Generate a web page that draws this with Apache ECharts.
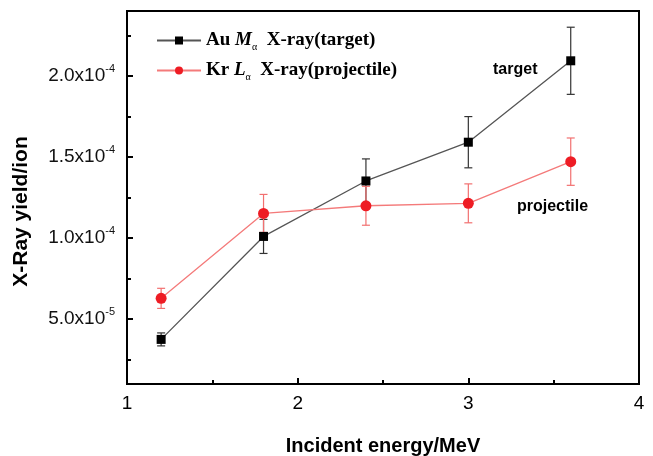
<!DOCTYPE html>
<html>
<head>
<meta charset="utf-8">
<script src="https://cdn.jsdelivr.net/npm/echarts@6/dist/echarts.min.js"></script>
<style>html,body{margin:0;padding:0;background:#fff;}#c{width:653px;height:456px;}</style>
</head>
<body>
<div id="c"></div>
<script>
var energies = [1.2, 1.8, 2.4, 3.0, 3.6];
var targetYield = [3.75e-5, 1.01e-4, 1.352e-4, 1.591e-4, 2.093e-4];
var targetErr = [0.4e-5, 1.05e-5, 1.36e-5, 1.58e-5, 2.07e-5];
var projYield = [6.28e-5, 1.152e-4, 1.199e-4, 1.214e-4, 1.471e-4];
var projErr = [0.62e-5, 1.17e-5, 1.2e-5, 1.2e-5, 1.46e-5];
var yMajorTicks = [5e-5, 1e-4, 1.5e-4, 2e-4];
var yMinorTicks = [2.5e-5, 7.5e-5, 1.25e-4, 1.75e-4, 2.25e-4];
var yTickLabels = [['5.0x10', '-5'], ['1.0x10', '-4'], ['1.5x10', '-4'], ['2.0x10', '-4']];
var targetName = 'Au Mα X-ray(target)';
var projName = 'Kr Lα X-ray(projectile)';

function pairs(xs, ys) { return xs.map(function (x, i) { return [x, ys[i]]; }); }
function errData(xs, ys, es) { return xs.map(function (x, i) { return [x, ys[i] - es[i], ys[i] + es[i]]; }); }
function errRender(color) {
  return function (params, api) {
    var lo = api.coord([api.value(0), api.value(1)]);
    var hi = api.coord([api.value(0), api.value(2)]);
    var w = 4;
    var st = { stroke: color, lineWidth: 1.2 };
    return { type: 'group', children: [
      { type: 'line', shape: { x1: lo[0], y1: lo[1], x2: hi[0], y2: hi[1] }, style: st },
      { type: 'line', shape: { x1: lo[0] - w, y1: lo[1], x2: lo[0] + w, y2: lo[1] }, style: st },
      { type: 'line', shape: { x1: hi[0] - w, y1: hi[1], x2: hi[0] + w, y2: hi[1] }, style: st }
    ]};
  };
}

var chart = echarts.init(document.getElementById('c'));
var labelFont = '"Liberation Sans", Arial, sans-serif';
var serifFont = '"Liberation Serif", "Times New Roman", serif';
chart.setOption({
  animation: false,
  backgroundColor: '#fff',
  grid: { left: 127, right: 14, top: 11, bottom: 72, outerBoundsMode: 'none', containLabel: false, show: true, borderColor: '#000', borderWidth: 2, backgroundColor: 'transparent' },
  legend: {
    orient: 'vertical', left: 151, top: 26, itemGap: 9, itemWidth: 44, itemHeight: 10,
    data: [targetName, projName],
    formatter: function (name) {
      if (name === targetName) return '{n|Au }{i|M}{s|α}{n|  X-ray(target)}';
      return '{n|Kr }{i|L}{s|α}{n|  X-ray(projectile)}';
    },
    textStyle: {
      rich: {
        n: { fontFamily: serifFont, fontWeight: 'bold', fontSize: 19, color: '#000' },
        i: { fontFamily: serifFont, fontWeight: 'bold', fontStyle: 'italic', fontSize: 19, color: '#000' },
        s: { fontFamily: serifFont, fontSize: 10, color: '#000', padding: [13, 0, 0, 0] }
      }
    }
  },
  xAxis: {
    type: 'value', min: 1, max: 4, interval: 1,
    name: 'Incident energy/MeV', nameLocation: 'middle', nameGap: 52,
    nameTextStyle: { fontFamily: labelFont, fontWeight: 'bold', fontSize: 20, color: '#000' },
    axisLine: { lineStyle: { color: '#000', width: 2 } },
    axisTick: { inside: true, length: 6, lineStyle: { color: '#000', width: 2 } },
    minorTick: { show: true, splitNumber: 2, length: 4, lineStyle: { color: '#000', width: 2 } },
    splitLine: { show: false },
    axisLabel: { fontFamily: labelFont, fontSize: 19, color: '#000', margin: 10 }
  },
  yAxis: [{
    type: 'value', min: 1e-5, max: 2.4e-4,
    name: 'X-Ray yield/ion', nameLocation: 'middle', nameGap: 95, nameRotate: 90,
    nameTextStyle: { fontFamily: labelFont, fontWeight: 'bold', fontSize: 21, color: '#000', padding: [0, 28, 0, 0] },
    axisLine: { show: true, lineStyle: { color: '#000', width: 2 } },
    axisTick: { inside: true, length: 6, customValues: yMajorTicks, lineStyle: { color: '#000', width: 2 } },
    splitLine: { show: false },
    axisLabel: {
      customValues: yMajorTicks, margin: 12,
      formatter: function (v) {
        var idx = -1;
        yMajorTicks.forEach(function (t, i) { if (Math.abs(t - v) < 1e-9) idx = i; });
        var p = yTickLabels[idx];
        return '{b|' + p[0] + '}{s|' + p[1] + '}';
      },
      rich: {
        b: { fontFamily: labelFont, fontSize: 19, color: '#111' },
        s: { fontFamily: labelFont, fontSize: 11, color: '#111', padding: [0, 0, 14, 0] }
      }
    }
  }, {
    type: 'value', min: 1e-5, max: 2.4e-4, position: 'left',
    axisLine: { show: false },
    axisTick: { show: true, inside: true, length: 4, customValues: yMinorTicks, lineStyle: { color: '#000', width: 2 } },
    axisLabel: { show: false },
    splitLine: { show: false }
  }],
  graphic: [
    { type: 'text', left: 493, top: 62, style: { text: 'target', fontFamily: labelFont, fontWeight: 'bold', fontSize: 16, fill: '#000' } },
    { type: 'text', left: 517, top: 199, style: { text: 'projectile', fontFamily: labelFont, fontWeight: 'bold', fontSize: 16, fill: '#000' } }
  ],
  series: [
    { type: 'custom', name: 'targetErr', renderItem: errRender('#333'), data: errData(energies, targetYield, targetErr), z: 1, encode: { x: 0, y: [1, 2] } },
    { type: 'custom', name: 'projErr', renderItem: errRender('#f27070'), data: errData(energies, projYield, projErr), z: 1, encode: { x: 0, y: [1, 2] } },
    { type: 'line', name: targetName, data: pairs(energies, targetYield), symbol: 'rect', symbolSize: 9,
      lineStyle: { color: '#555', width: 1.3 }, itemStyle: { color: '#000' }, z: 3 },
    { type: 'line', name: projName, data: pairs(energies, projYield), symbol: 'circle', symbolSize: 11,
      lineStyle: { color: '#f47a7a', width: 1.3 }, itemStyle: { color: '#ee1c24' }, z: 3 }
  ]
});
</script>
</body>
</html>
